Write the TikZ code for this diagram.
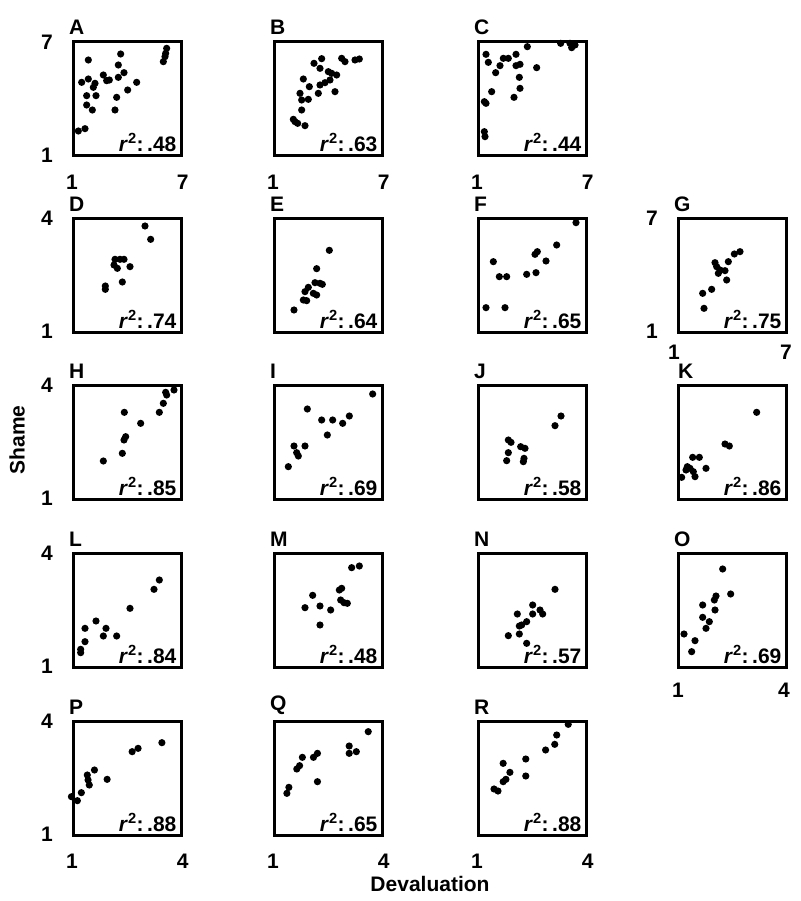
\documentclass[tikz,border=0pt]{standalone}
\usepackage{fontspec}
\setmainfont{Liberation Sans}
\newcommand\pts[5]{\foreach \a/\b in {#5}{\fill ({\a*#3+#1},{\b*#4+#2}) circle[radius=3.6pt];}}
\newcommand\panel[5]{%
 \node[box] (#1) at (#2,#3) {};
 \node[lab,anchor=south west] (#1l) at ([xshift=-3pt,yshift=5pt]#1.north west) {#4};
 \node[rlab,anchor=south east] (#1r) at ([xshift=-6pt,yshift=5pt]#1.south east) {\textit{r}\textsuperscript{2}:\,.#5};}
\begin{document}
\begin{tikzpicture}[x=1pt,y=-1pt,
 box/.style={draw,line width=2.6pt,minimum width=108pt,minimum height=114pt,anchor=north west,inner sep=0pt},
 lab/.style={font=\fontsize{21}{21}\selectfont\bfseries,inner sep=0pt},
 rlab/.style={font=\fontsize{21}{21}\selectfont\bfseries,inner sep=0pt}]
\useasboundingbox[fill=white] (0,0) rectangle (800,901);
\panel{A}{72}{40}{A}{48}
\panel{B}{273}{40}{B}{63}
\panel{C}{477}{40}{C}{44}
\panel{D}{72}{217}{D}{74}
\panel{E}{273}{217}{E}{64}
\panel{F}{477}{217}{F}{65}
\panel{G}{677}{217}{G}{75}
\panel{H}{72}{384}{H}{85}
\panel{I}{273}{384}{I}{69}
\panel{J}{477}{384}{J}{58}
\node[box] (K) at (677,384) {};
\node[lab,anchor=south west] (Kl) at ([xshift=1pt,yshift=5pt]K.north west) {K};
\node[rlab,anchor=south east] (Kr) at ([xshift=-6pt,yshift=5pt]K.south east) {\textit{r}\textsuperscript{2}:\,.86};
\panel{L}{72}{552}{L}{84}
\panel{M}{273}{552}{M}{48}
\panel{N}{477}{552}{N}{57}
\panel{O}{677}{552}{O}{69}
\panel{P}{72}{720}{P}{88}
\panel{Q}{273}{720}{Q}{65}
\panel{R}{477}{720}{R}{88}
% ticks
\node[lab] (t1a) at (47,42) {7}; \node[lab] (t1b) at (47,155) {1};
\foreach \p in {A,B,C}{\node[lab] (x\p a) at ([yshift=-26pt]\p.south west) {1}; \node[lab] (x\p b) at ([yshift=-26pt]\p.south east) {7};}
\node[lab] (t2a) at (47,218) {4}; \node[lab] (t2b) at (47,331) {1};
\node[lab] (tga) at (652,218) {7}; \node[lab] (tgb) at (652,331) {1};
\node[lab] (xga) at (674,352) {1}; \node[lab] (xgb) at (786,352) {7};
\node[lab] (t3a) at (47,385) {4}; \node[lab] (t3b) at (47,498) {1};
\node[lab] (t4a) at (47,553) {4}; \node[lab] (t4b) at (47,666) {1};
\node[lab] (xoa) at (678,690) {1}; \node[lab] (xob) at (784,690) {4};
\node[lab] (t5a) at (47,721) {4}; \node[lab] (t5b) at (47,834) {1};
\foreach \p in {P,Q,R}{\node[lab] (x\p a) at ([yshift=-25pt]\p.south west) {1}; \node[lab] (x\p b) at ([yshift=-25pt]\p.south east) {4};}
\node[lab,rotate=90] (shame) at (17,440) {Shame};
\node[lab] (deval) at (430,884) {Devaluation};
% dots
\def\t{0.33333}
\pts{0}{0}{\t}{\t}{500/145,497/160,490/185,495/170,265/180,362/162,355/195,245/247,265/237,285/250,280/262,260/287,288/287,310/225,320/242,328/240,355/232,372/218,410/247,383/270,350/292,260/315,277/330,345/330,235/393,255/386}
\pts{0}{0}{\t}{\t}{942/190,965/176,960/205,1025/175,1035/185,1065/180,1078/177,985/215,995/220,1010/225,990/240,975/248,960/255,910/237,928/260,955/280,1005/275,900/280,905/300,925/298,905/330,880/358,893/370,915/377,885/365}
\pts{0}{0}{\t}{\t}{435/678,452/718,345/778,360/778,372/778,342/795,352/805,390/800,367/846,316/858,316/868}
\pts{0}{0}{\t}{\t}{988/751,950/806,945/848,960/850,967/853,925/862,940/880,950/885,915/875,910/900,920/902,882/930}
\pts{400}{0}{\t}{\t}{258/163,265/187,300/197,310/175,325/175,348/163,348/197,360/193,382/140,410/203,287/218,358/232,360/265,342/292,275/275,253/305,258/310,253/395,255/410,482/130,510/130,515/143,525/135}
\pts{400}{0}{\t}{\t}{528/668,470/735,412/755,405/763,438/783,280/785,298/830,320/830,380/823,408/818,258/923,315/923}
\pts{400}{0}{\t}{\t}{1020/755,1003/762,985/785,945/788,950/800,960/810,975/812,955/820,980/840,935/868,908/880,912/925}
\pts{0}{340}{\t}{\t}{522/150,497/157,500/165,490/190,478/217,373/217,422/250,377/290,372/300,367/340,310/363}
\pts{0}{340}{\t}{\t}{1118/162,922/207,965/240,998/240,1028/250,1048/228,982/285,882/318,915/318,890/338,895/348,865/380}
\pts{0}{340}{\t}{\t}{478/720,462/748,390/805,288/843,255/865,318/865,310/888,350/888,255/905,242/928,242/938}
\pts{0}{340}{\t}{\t}{1055/683,1078/678,1025/745,1018/750,1022/780,1032/788,1042/790,938/766,915/803,960/798,992/810,960/855}
\pts{400}{340}{\t}{\t}{483/228,465/257,325/300,333/307,362/320,375/325,325/338,372/355,370/365,320/362}
\pts{400}{340}{\t}{\t}{1070/217,975/312,988/318,878/352,898/352,862/380,858/390,870/385,880/395,885/410,918/385,845/412}
\pts{400}{340}{\t}{\t}{465/748,398/795,420/810,428/822,398/822,352/822,380/845,365/855,358/858,325/887,358/882,380/910}
\pts{400}{340}{\t}{\t}{968/687,992/762,948/768,943/780,908/795,945/810,908/832,928/845,918/865,852/882,885/902,875/935}
\def\u{0.3968}
\pts{0}{680}{\u}{\t}{408/188,348/205,333/215,238/270,220/285,222/300,225/315,270/298,205/338,180/350,195/362}
\pts{0}{680}{\u}{\t}{928/155,880/198,880/220,898/215,800/220,790/232,762/232,755/257,748/267,800/305,728/322,723/340}
\pts{0}{680}{\u}{\t}{1432/133,1403/165,1398/193,1375/210,1325/237,1268/250,1285/277,1325/288,1275/298,1268/305,1245/327,1255/333}
\end{tikzpicture}
\end{document}
